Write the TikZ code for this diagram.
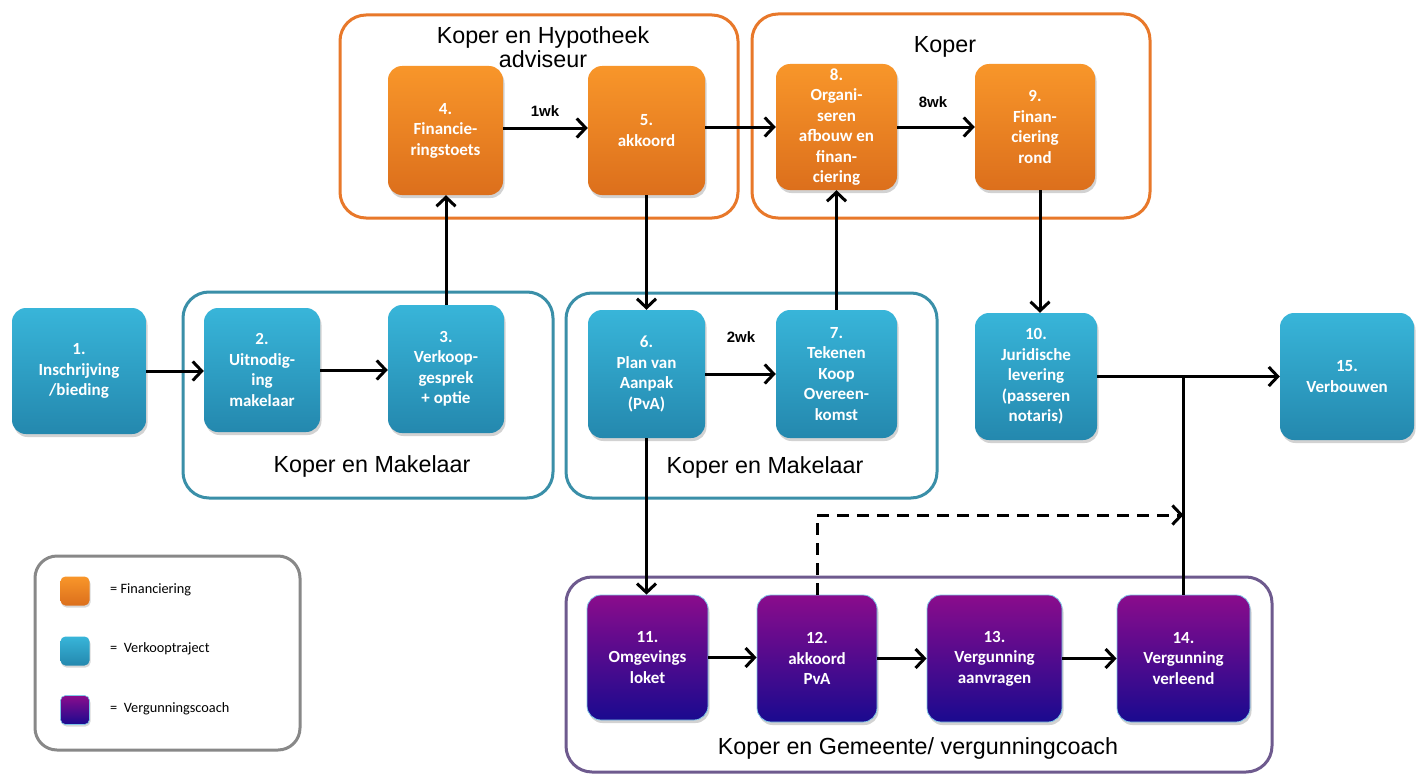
\documentclass[tikz,border=0pt]{standalone}
\usepackage{fontspec}
\setmainfont{Carlito}
\newfontfamily\labfont{Liberation Sans}
\usetikzlibrary{arrows.meta,shadows}
\definecolor{oTop}{HTML}{F8962A}
\definecolor{oBot}{HTML}{DC6F1C}
\definecolor{bTop}{HTML}{38B5D9}
\definecolor{bBot}{HTML}{2488AE}
\definecolor{pTop}{HTML}{8A0C8C}
\definecolor{pMid}{HTML}{4A0A92}
\definecolor{pBot}{HTML}{1A0A8F}
\definecolor{pEdge}{HTML}{7FC8E8}
\definecolor{gOr}{HTML}{E8782A}
\definecolor{gTe}{HTML}{3A8FA8}
\definecolor{gPu}{HTML}{6E5A8E}
\definecolor{gGr}{HTML}{888888}
\tikzset{
  stepbase/.style={rounded corners=14pt, inner sep=0pt, align=center, text=white,
    font=\bfseries\fontsize{17}{20.5}\selectfont,
    drop shadow={opacity=0.35, shadow xshift=1.5pt, shadow yshift=-3pt}},
  obox/.style={stepbase, top color=oTop, bottom color=oBot},
  bbox/.style={stepbase, top color=bTop, bottom color=bBot},
  pbox/.style={stepbase, top color=pTop, middle color=pMid, bottom color=pBot, draw=pEdge, line width=0.8pt},
  grp/.style={rounded corners=26pt, line width=3pt},
  grplab/.style={font=\labfont\fontsize{23.3}{24}\selectfont, text=black, align=center, inner sep=0pt},
  wklab/.style={font=\labfont\bfseries\fontsize{15}{18}\selectfont, inner sep=0pt},
  arr/.style={line width=3pt, -{Straight Barb[length=9pt,width=19pt,line width=3pt]}},
  ln/.style={line width=3pt},
  legsq/.style={rounded corners=5pt, minimum width=29pt, minimum height=29pt, inner sep=0pt,
    drop shadow={opacity=0.3, shadow xshift=1pt, shadow yshift=-2pt}},
  legtxt/.style={font=\fontsize{14.3}{17}\selectfont, anchor=west, inner sep=0pt}
}
\begin{document}
\begin{tikzpicture}[x=1pt,y=-1pt]
\useasboundingbox[fill=white] (0,0) rectangle (1416,776);
% group frames
\draw[grp, draw=gOr] (340,15) rectangle (738,218);
\draw[grp, draw=gOr] (752,14) rectangle (1150,218);
\draw[grp, draw=gTe] (183,292) rectangle (553,498);
\draw[grp, draw=gTe] (566,293) rectangle (937,498);
\draw[grp, draw=gPu] (566,577) rectangle (1272,772);
\draw[rounded corners=22pt, line width=3pt, draw=gGr] (35,556) rectangle (300,750);
% group labels
\node[grplab] (tH) at (543,47) {Koper en Hypotheek\\adviseur};
\node[grplab] (tK) at (945,47) {Koper};
\node[grplab] (tL) at (372,466) {Koper en Makelaar};
\node[grplab] (tM) at (765,467) {Koper en Makelaar};
\node[grplab] (tP) at (918,748) {Koper en Gemeente/ vergunningcoach};
% steps
\node[bbox, minimum width=134pt, minimum height=126pt] (n1) at (79,371) {1.\\Inschrijving\\/bieding};
\node[bbox, minimum width=116pt, minimum height=124pt] (n2) at (262,370) {2.\\Uitnodig-\\ing\\makelaar};
\node[bbox, minimum width=116pt, minimum height=128pt] (n3) at (446,369) {3.\\Verkoop-\\gesprek\\+ optie};
\node[obox, minimum width=115pt, minimum height=129pt] (n4) at (445.5,130.5) {4.\\Financie-\\ringstoets};
\node[obox, minimum width=117pt, minimum height=129pt] (n5) at (646.5,130.5) {5.\\akkoord};
\node[bbox, minimum width=117pt, minimum height=128pt] (n6) at (646.5,374) {6.\\Plan van\\Aanpak\\(PvA)};
\node[bbox, minimum width=121pt, minimum height=128pt] (n7) at (836.5,374) {7.\\Tekenen\\Koop\\Overeen-\\komst};
\node[obox, minimum width=121pt, minimum height=126pt] (n8) at (836.5,127) {8.\\Organi-\\seren\\afbouw en\\finan-\\ciering};
\node[obox, minimum width=120pt, minimum height=126pt] (n9) at (1035,127) {9.\\Finan-\\ciering\\rond};
\node[bbox, minimum width=122pt, minimum height=127pt] (n10) at (1036,376.5) {10.\\Juridische\\levering\\(passeren\\notaris)};
\node[bbox, minimum width=134pt, minimum height=127pt] (n15) at (1347,376.5) {15.\\Verbouwen};
\node[pbox, minimum width=121pt, minimum height=125pt] (n11) at (647.5,657.5) {11.\\Omgevings\\loket};
\node[pbox, minimum width=120pt, minimum height=127pt] (n12) at (817,658.5) {12.\\akkoord\\PvA};
\node[pbox, minimum width=135pt, minimum height=127pt] (n13) at (994.5,658.5) {13.\\Vergunning\\aanvragen};
\node[pbox, minimum width=133pt, minimum height=127pt] (n14) at (1183.5,658.5) {14.\\Vergunning\\verleend};
% duration labels
\node[wklab] (w1) at (545,111) {1wk};
\node[wklab] (w8) at (933,102) {8wk};
\node[wklab] (w2) at (741,337) {2wk};
% connectors
\draw[arr] (n1.east) -- (n1.east -| n2.west);
\draw[arr] (n2.east) -- (n2.east -| n3.west);
\draw[arr] (n3.north) -- (n3.north |- n4.south);
\draw[arr] (n4.east |- 0,128) -- (n5.west |- 0,128);
\draw[arr] (n5.east |- 0,127) -- (n8.west |- 0,127);
\draw[arr] (n8.east |- 0,127) -- (n9.west |- 0,127);
\draw[arr] (n5.south) -- (n5.south |- n6.north);
\draw[arr] (n6.east) -- (n6.east -| n7.west);
\draw[arr] (n7.north) -- (n7.north |- n8.south);
\draw[arr] (n9.south -| 1040,0) -- (n10.north -| 1040,0);
\draw[arr] (n10.east) -- (n10.east -| n15.west);
\draw[arr] (n6.south) -- (n6.south |- n11.north);
\draw[arr] (n11.east) -- (n11.east -| n12.west);
\draw[arr] (n12.east) -- (n12.east -| n13.west);
\draw[arr] (n13.east) -- (n13.east -| n14.west);
\coordinate (jn) at (n14.north |- n10.east);
\draw[ln] (n14.north) -- (jn);
\coordinate (dc) at (n14.north |- 0,515);
\draw[arr, dashed, dash pattern=on 12pt off 8pt] (n12.north) -- (n12.north |- dc) -- (dc);
% legend
\node[legsq, top color=oTop, bottom color=oBot] (l1) at (75,591) {};
\node[legsq, top color=bTop, bottom color=bBot] (l2) at (75,651) {};
\node[legsq, top color=pTop, middle color=pMid, bottom color=pBot, draw=pEdge, line width=0.6pt] (l3) at (75,710) {};
\node[legtxt] (lt1) at (110,590) {= Financiering};
\node[legtxt] (lt2) at (110,649) {=\ \ Verkooptraject};
\node[legtxt] (lt3) at (110,709) {=\ \ Vergunningscoach};
\end{tikzpicture}
\end{document}
